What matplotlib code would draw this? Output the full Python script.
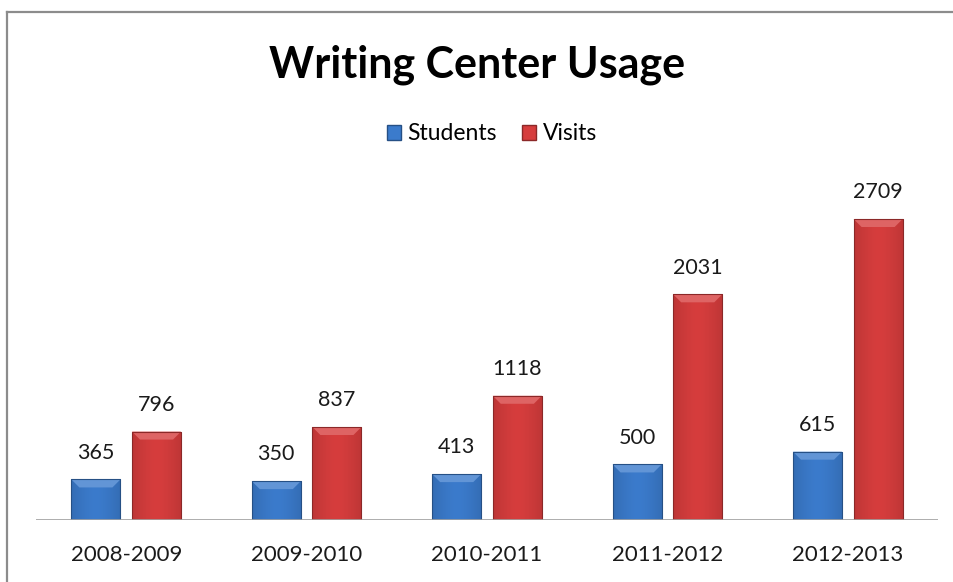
import numpy as np
import matplotlib.pyplot as plt
from matplotlib.patches import Polygon, Patch, Rectangle
from matplotlib.lines import Line2D
from matplotlib.colors import to_rgb

plt.rcParams['font.family'] = ['Lato', 'DejaVu Sans']

years = ["2008-2009", "2009-2010", "2010-2011", "2011-2012", "2012-2013"]
students = [365, 350, 413, 500, 615]
visits = [796, 837, 1118, 2031, 2709]

blue = "#3b7bcc"
red = "#d63d3d"


def shade(c, f):
    r = np.array(to_rgb(c))
    if f > 0:
        return tuple(r + (1 - r) * f)
    return tuple(r * (1 + f))


def bevel_bar(ax, rect, color):
    # horizontal gradient clipped to the bar plus a light top bevel
    x0 = rect.get_x()
    w = rect.get_width()
    h = rect.get_height()
    t = np.linspace(0, 1, 64)
    prof = 1 - 0.55 * np.abs(t - 0.5) ** 1.5 * 2
    base = np.array(to_rgb(color))
    dark = np.array(shade(color, -0.3))
    img = dark[None, :] + (base - dark)[None, :] * prof[:, None]
    im = ax.imshow(img[None, :, :], extent=[x0, x0 + w, 0, h], aspect="auto",
                   zorder=2, interpolation="bilinear")
    im.set_clip_path(rect)
    bx = 8 / 180.4
    by = 8 * 9.0
    top = Polygon([(x0, h), (x0 + w, h), (x0 + w - bx, h - by), (x0 + bx, h - by)],
                  closed=True, fc=shade(color, 0.2), ec="none", zorder=3)
    ax.add_patch(top)
    ax.add_patch(Rectangle((x0, 0), w, h, fc="none", ec=shade(color, -0.35),
                           lw=0.8, zorder=4))


fig = plt.figure(figsize=(9.54, 5.82), dpi=100)
# chart frame: only the left and top edges fall inside the image
fx, fy = 7.5 / 954, 1 - 11.5 / 582
fig.add_artist(Line2D([fx, fx], [0, fy], color="#8c8c8c", lw=1.6))
fig.add_artist(Line2D([fx, 1], [fy, fy], color="#8c8c8c", lw=1.6))

ax = fig.add_axes([36 / 954, 62 / 582, 902 / 954, 335 / 582])
x = np.arange(len(years))
off = 0.168
bw = 0.272

b1 = ax.bar(x - off, students, bw, color=blue, label="Students", zorder=1)
b2 = ax.bar(x + off, visits, bw, color=red, label="Visits", zorder=1)

for bars, col in ((b1, blue), (b2, red)):
    for r in bars:
        bevel_bar(ax, r, col)
        ax.annotate(f"{int(r.get_height())}", (r.get_x() + r.get_width() / 2, r.get_height()),
                    xytext=(0, 12), textcoords="offset points", ha="center", va="bottom",
                    fontsize=15.5, color="#1a1a1a")

ax.set_xlim(-0.5, 4.5)
ax.set_ylim(0, 3015)
ax.axhline(0, color="#a0a0a0", lw=1.2, zorder=5)
for s in ax.spines.values():
    s.set_visible(False)
ax.set_yticks([])
ax.set_xticks(x)
ax.set_xticklabels(years, fontsize=16, color="#1a1a1a")
ax.tick_params(axis="x", length=0, pad=18)

fig.text(477 / 954, 1 - 65 / 582, "Writing Center Usage", ha="center", va="center",
         fontsize=31, fontweight="bold")

handles = [Patch(fc=blue, ec=shade(blue, -0.35)), Patch(fc=red, ec=shade(red, -0.35))]
fig.legend(handles, ["Students", "Visits"], loc="center", bbox_to_anchor=(492 / 954, 1 - 134 / 582),
           ncol=2, frameon=False, fontsize=16.5, handlelength=0.6, handleheight=0.6,
           handletextpad=0.3, columnspacing=1.1)

fig.savefig("out.png", dpi=100)
